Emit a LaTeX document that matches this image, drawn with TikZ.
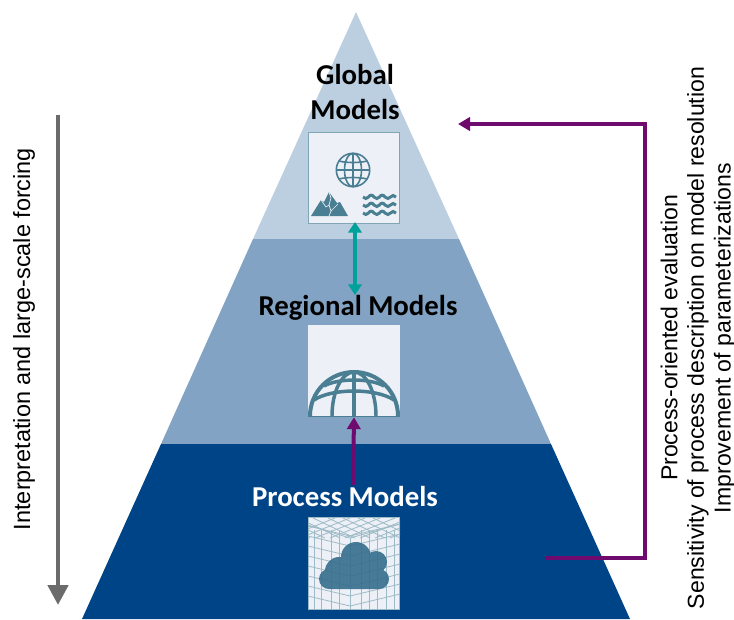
\documentclass[tikz,border=0pt]{standalone}
\usepackage{fontspec}
\setmainfont{Liberation Sans}
\newfontfamily\tierfont{Carlito}
\usetikzlibrary{arrows.meta}
\definecolor{tierlight}{HTML}{BCCFE0}
\definecolor{tiermid}{HTML}{82A3C4}
\definecolor{tierdark}{HTML}{004488}
\definecolor{boxfill}{HTML}{EDF0F6}
\definecolor{iconcol}{HTML}{4A7E92}
\definecolor{cloudcol}{HTML}{38708F}
\definecolor{gridcol}{HTML}{9DBBC6}
\definecolor{arrowgrey}{HTML}{6B6B6B}
\definecolor{arrowteal}{HTML}{00A19A}
\definecolor{arrowpurple}{HTML}{6F0A6F}
\tikzset{
  tierlabel/.style={font=\tierfont\bfseries\fontsize{21.6}{26}\selectfont,align=center,inner sep=0pt},
  iconbox/.style={draw=#1,fill=boxfill,line width=0.7pt,minimum size=68.5pt,inner sep=0pt},
  sidelabel/.style={font=\fontsize{#1}{19.9}\selectfont,align=center,rotate=90,inner sep=0pt},
  icon/.style={draw=iconcol,line width=1.2pt},
  gridline/.style={draw=gridcol,line width=0.6pt},
  purplearrow/.style={draw=arrowpurple,line width=3pt,-{Triangle[length=9pt,width=10pt]}}
}
\begin{document}
\begin{tikzpicture}[x=0.75pt,y=-0.75pt]
  \useasboundingbox (0,0) rectangle (734,619);
  % pyramid
  \fill[tierlight] (356,12) -- (459,239) -- (253,239) -- cycle;
  \fill[tiermid] (253,239) -- (459,239) -- (551,444) -- (161,444) -- cycle;
  \fill[tierdark] (161,444) -- (551,444) -- (630,619) -- (82,619) -- cycle;
  % boxes
  \node[iconbox=iconcol!70] (globalbox) at (354,178) {};
  \node[iconbox=boxfill] (regionalbox) at (354,371) {};
  \node[iconbox=gridcol] (processbox) at (354,563.5) {};
  % labels
  \node[tierlabel] (globallabel) at (355,92) {Global\\Models};
  \node[tierlabel] (regionallabel) at (358,308) {Regional Models};
  \node[tierlabel,text=white] (processlabel) at (345,496) {Process Models};
  % globe
  \draw[icon] (353,170) circle (16.7);
  \draw[icon] (353,170) ellipse (8.5 and 16.7);
  \draw[icon] (353,153.3) -- (353,186.7);
  \draw[icon] (336.3,170) -- (369.7,170);
  \draw[icon] (339,161) .. controls (346,163) and (360,163) .. (367,161);
  \draw[icon] (339,179) .. controls (346,177) and (360,177) .. (367,179);
  % mountains
  \fill[iconcol] (311,216) -- (321,200) -- (324,202) -- (329,192) -- (337,203) -- (340,202) -- (348,216) -- cycle;
  \draw[boxfill,line width=0.5pt] (321,200) -- (326,207) -- (329,205) -- (331,211) -- (338,204);
  \draw[boxfill,line width=0.5pt] (331,211) -- (329,216);
  \draw[boxfill,line width=0.5pt] (329,192) -- (331,198) -- (329,205);
  % waves
  \foreach \wavey in {197,205,213}
    \draw[iconcol,line width=2.2pt] (363,\wavey) .. controls (365,\wavey+2) and (367,\wavey+2) .. (368.5,\wavey)
      .. controls (370,\wavey-2.5) and (372.5,\wavey-2.5) .. (374,\wavey)
      .. controls (376,\wavey+2) and (378,\wavey+2) .. (379.5,\wavey)
      .. controls (381,\wavey-2.5) and (383.5,\wavey-2.5) .. (385,\wavey)
      .. controls (387,\wavey+2) and (389,\wavey+2) .. (390.5,\wavey)
      .. controls (392,\wavey-2) and (394,\wavey-2) .. (396,\wavey);
  % dome
  \begin{scope}
    \clip (307,369) rectangle (401,416);
    \draw[iconcol,line width=3pt] (354,416) ellipse (44 and 44);
    \draw[iconcol,line width=2.6pt] (354,416) ellipse (22 and 44);
  \end{scope}
  \draw[iconcol,line width=2.6pt] (354,372) -- (354,416);
  \draw[iconcol,line width=0.6pt] (309,416) -- (399,416);
  \draw[iconcol,line width=2.6pt] (324,386) .. controls (338,378) and (370,378) .. (384,386);
  \draw[iconcol,line width=2.6pt] (314,400) .. controls (332,388) and (376,388) .. (394,400);
  % cube grid
  \begin{scope}
    \clip (308,518) rectangle (400,609);
    \foreach \gridy in {536,546,556,566,576,586,596,606}{
      \draw[gridline] (308,\gridy-10) -- (350,\gridy) -- (400,\gridy-12);
    }
    \foreach \gridx in {314,321,331,339,361,369,377,386,394}{
      \draw[gridline] (\gridx,530) -- (\gridx,609);
    }
    \draw[gridline] (350,538) -- (350,609);
    \draw[gridline] (308,525) -- (350,538) -- (400,524);
    \foreach \gridk in {-40,-25,-10,5,20,35,50,65}{
      \draw[gridline] (308+\gridk,518) -- (350+\gridk,538);
      \draw[gridline] (400-\gridk,518) -- (350-\gridk,538);
    }
  \end{scope}
  % cloud
  \fill[cloudcol,opacity=.92] (329,579) circle (10) (339,571) circle (14) (356,557) circle (15)
    (376,562) circle (11) (379,579) circle (10) (329,589) rectangle (379,565);
  % arrows
  \coordinate (greytop) at (58,115);
  \coordinate (greyend) at (58,605);
  \coordinate (tealtop) at (355,222);
  \coordinate (tealend) at (355,295);
  \coordinate (purplestart) at (353,485);
  \coordinate (loopstart) at (545,558);
  \coordinate (loopend) at (458,124);
  \coordinate (loopcorner) at (645,124);
  \draw[arrowgrey,line width=3.6pt,-{Triangle[length=15pt,width=15pt]}] (greytop) -- (greyend);
  \draw[arrowteal,line width=3pt,{Triangle[length=8pt,width=10pt]}-{Triangle[length=8pt,width=10pt]}] (tealtop) -- (tealend);
  \draw[purplearrow] (purplestart) -- (regionalbox.south);
  \draw[purplearrow] (loopstart) -| (loopcorner) -- (loopend);
  % side texts
  \node[sidelabel=17.6] (leftlabel) at (24,339) {Interpretation and large-scale forcing};
  \node[sidelabel=17.3] (rightlabel) at (698,338) {Process-oriented evaluation\\Sensitivity of process description on model resolution\\Improvement of parameterizations};
\end{tikzpicture}
\end{document}
